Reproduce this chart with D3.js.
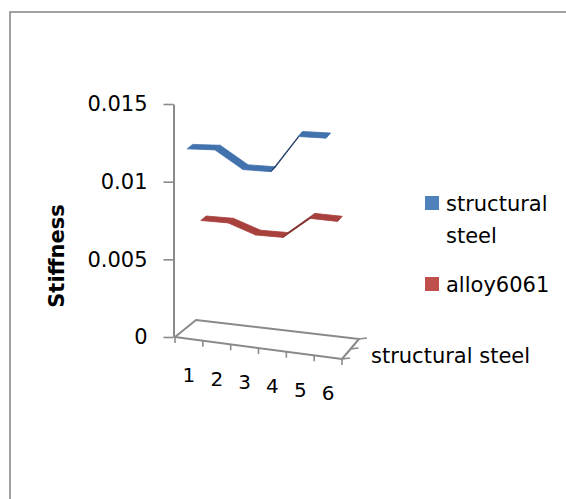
<!DOCTYPE html>
<html>
<head>
<meta charset="utf-8">
<script src="https://cdn.jsdelivr.net/npm/d3@7"></script>
<style>
  html, body { margin: 0; padding: 0; background: #fff; }
  svg { display: block; }
  text { font-family: "DejaVu Sans", sans-serif; fill: #000; }
</style>
</head>
<body>
<svg id="chart" width="566" height="499"></svg>
<script>
// Category labels along the front edge
const categories = ["1", "2", "3", "4", "5", "6"];
// Series, front to back
const seriesNames = ["structural steel", "alloy6061"];
const steelValues = [0.01223, 0.01240, 0.01137, 0.01147, 0.01397, 0.01410];
const alloyValues = [0.00693, 0.00699, 0.00643, 0.00649, 0.00793, 0.00795];
const yTickValues = [0, 0.005, 0.01, 0.015];
const depthLabels = ["structural steel"];

const seriesColors = ["#4F81BD", "#C0504D"];
const ribbonTop = ["#4272ad", "#a8403d"];
const ribbonDark = ["#1d3a66", "#6e2321"];

const FONT = "'DejaVu Sans', sans-serif";
const svg = d3.select("#chart");

// Chart frame (runs past the right and bottom of the view)
svg.append("rect")
  .attr("x", 10).attr("y", 12).attr("width", 620).attr("height", 600)
  .attr("fill", "none").attr("stroke", "#8a8a8a").attr("stroke-width", 1.6);

// Floor corners of the 3D plot box (front-left, front-right, back-left, back-right)
const FL = [175, 337], FR = [342, 359], BL = [196, 320], BR = [359, 339];

const catScale = d3.scaleLinear().domain([0, categories.length]).range([0, 1]);
const valHeight = d3.scaleLinear().domain([0, 0.015]).range([0, 233]);
const depthScale = d3.scaleLinear().domain([0, 1]).range([0, 1]);

// Project (category position, value, depth) onto the page
function P(c, v, z) {
  const t = catScale(c), d = depthScale(z);
  const fx = FL[0] + (FR[0] - FL[0]) * t, fy = FL[1] + (FR[1] - FL[1]) * t;
  const bx = BL[0] + (BR[0] - BL[0]) * t, by = BL[1] + (BR[1] - BL[1]) * t;
  const x = fx + (bx - fx) * d, y = fy + (by - fy) * d;
  return [x - valHeight(v) * 0.009, y - valHeight(v)];
}

const gridColor = "#8a8a8a";

// Floor
const floorPts = [P(0, 0, 0), P(categories.length, 0, 0), P(categories.length, 0, 1), P(0, 0, 1)];
svg.append("path")
  .attr("d", d3.line()(floorPts) + "Z")
  .attr("fill", "none").attr("stroke", gridColor).attr("stroke-width", 2)
  .attr("stroke-linejoin", "round");

// Category tick marks
d3.range(categories.length + 1).forEach(i => {
  const p = P(i, 0, 0);
  svg.append("line")
    .attr("x1", p[0]).attr("y1", p[1]).attr("x2", p[0]).attr("y2", p[1] + 6)
    .attr("stroke", gridColor).attr("stroke-width", 1.6);
});

// Depth (series) axis tick marks on the right floor edge
[0, 0.5, 1].forEach(z => {
  const p = P(categories.length, 0, z);
  svg.append("line")
    .attr("x1", p[0]).attr("y1", p[1]).attr("x2", p[0] + 8).attr("y2", p[1] - 1)
    .attr("stroke", gridColor).attr("stroke-width", 1.6);
});

// Category labels
svg.append("g").selectAll("text")
  .data(categories)
  .join("text")
  .attr("x", (d, i) => P(i + 0.5, 0, 0)[0])
  .attr("y", (d, i) => P(i + 0.5, 0, 0)[1] + 43)
  .attr("text-anchor", "middle")
  .attr("font-size", 20)
  .text(d => d);

// Depth axis label
svg.append("text")
  .attr("x", 371).attr("y", 363)
  .attr("font-size", 21)
  .text(depthLabels[0]);

// Vertical value axis
const yAxisScale = d3.scaleLinear().domain([0, 0.015]).range([FL[1], FL[1] - 233]);
const yAxis = d3.axisLeft(yAxisScale)
  .tickValues(yTickValues)
  .tickSize(10)
  .tickSizeOuter(0)
  .tickPadding(16)
  .tickFormat(d => String(+d.toFixed(3)));
const yg = svg.append("g")
  .attr("transform", `translate(${FL[0] - 1.5},0)`)
  .call(yAxis);
yg.select(".domain").attr("stroke", gridColor).attr("stroke-width", 2);
yg.selectAll(".tick line").attr("stroke", gridColor).attr("stroke-width", 1.6);
yg.selectAll(".tick text")
  .attr("font-family", FONT)
  .attr("font-size", 21).attr("fill", "#000");

// Axis title
svg.append("text")
  .attr("transform", "translate(64,256) rotate(-90)")
  .attr("text-anchor", "middle")
  .attr("font-family", "'Liberation Sans', Arial, sans-serif")
  .attr("font-size", 21).attr("font-weight", "bold")
  .text("Stiffness");

// Ribbons: each series occupies a depth band
const seriesData = [steelValues, alloyValues];
const depthBands = [[0.0, 0.26], [0.62, 0.88]];

function drawRibbon(si) {
  const vals = seriesData[si];
  const [z0, z1] = depthBands[si];
  const g = svg.append("g");
  for (let i = 0; i < vals.length - 1; i++) {
    const a0 = P(i + 0.5, vals[i], z0), b0 = P(i + 1.5, vals[i + 1], z0);
    const b1 = P(i + 1.5, vals[i + 1], z1), a1 = P(i + 0.5, vals[i], z1);
    const dx = b0[0] - a0[0], dy = b0[1] - a0[1];
    const ex = a1[0] - a0[0], ey = a1[1] - a0[1];
    const s = (dx * ey - dy * ex) / (Math.hypot(dx, dy) * Math.hypot(ex, ey));
    let col;
    if (s < 0) {
      col = d3.interpolateRgb(ribbonDark[si], ribbonTop[si])(Math.min(1, -s / 0.5));
    } else {
      col = ribbonDark[si];
    }
    g.append("path")
      .attr("d", d3.line()([a0, b0, b1, a1]) + "Z")
      .attr("fill", col)
      .attr("stroke", col).attr("stroke-width", 0.8)
      .attr("stroke-linejoin", "round");
  }
}
drawRibbon(1);
drawRibbon(0);

// Legend
const legend = svg.append("g");
const legendRows = [
  { name: seriesNames[0], lines: ["structural", "steel"], y: 196 },
  { name: seriesNames[1], lines: ["alloy6061"], y: 277 }
];
legendRows.forEach((r, i) => {
  legend.append("rect")
    .attr("x", 425).attr("y", r.y).attr("width", 14).attr("height", 14)
    .attr("fill", seriesColors[i]);
  r.lines.forEach((ln, j) => {
    legend.append("text")
      .attr("x", 446).attr("y", r.y + 15 + j * 32)
      .attr("font-size", 21)
      .text(ln);
  });
});
</script>
</body>
</html>
